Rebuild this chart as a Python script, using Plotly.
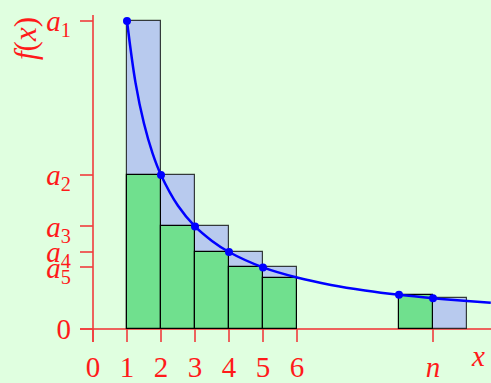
import plotly.graph_objects as go

# ---- data ----
upper_left = [1, 2, 3, 4, 5, 10]          # left edges of the blue (upper) bars
upper_height = [1.0, 0.5, 0.333, 0.25, 0.2, 0.1]
lower_left = [1, 2, 3, 4, 5, 9]           # left edges of the green (lower) bars
lower_height = [0.5, 0.333, 0.25, 0.2, 0.167, 0.111]

curve_x = [1, 1.25, 1.5, 1.75, 2, 2.5, 3, 3.5, 4, 5, 6, 7, 8, 9, 10, 11, 11.7]
curve_y = [1.0, 0.8, 0.667, 0.571, 0.5, 0.4, 0.333, 0.286, 0.25, 0.2, 0.167,
           0.143, 0.125, 0.111, 0.1, 0.091, 0.0855]

point_x = [1, 2, 3, 4, 5, 9, 10]
point_y = [1.0, 0.5, 0.333, 0.25, 0.2, 0.111, 0.1]

x_tick_vals = [0, 1, 2, 3, 4, 5, 6, 10]
x_tick_text = ["0", "1", "2", "3", "4", "5", "6", "<i>n</i>"]
y_tick_vals = [0, 0.2, 0.25, 0.333, 0.5, 1.0]
y_tick_text = ["0", "<i>a</i><sub>5</sub>", "<i>a</i><sub>4</sub>",
               "<i>a</i><sub>3</sub>", "<i>a</i><sub>2</sub>", "<i>a</i><sub>1</sub>"]

RED = "#ff1a1a"
AXIS = "rgba(240,60,60,0.8)"
FONT = "Liberation Serif"
FS = 29

fig = go.Figure()
fig.add_trace(go.Bar(
    x=[l + 0.5 for l in upper_left], y=upper_height, width=1,
    marker=dict(color="#b8caee", line=dict(color="rgba(0,0,0,0.75)", width=1.2)),
    hoverinfo="skip"))
fig.add_trace(go.Bar(
    x=[l + 0.5 for l in lower_left], y=lower_height, width=1,
    marker=dict(color="#70e08e", line=dict(color="black", width=1.2)),
    hoverinfo="skip"))
fig.add_trace(go.Scatter(
    x=curve_x, y=curve_y, mode="lines", line=dict(color="#0000ff", width=2.5, shape="spline"),
    hoverinfo="skip"))
fig.add_trace(go.Scatter(
    x=point_x, y=point_y, mode="markers", marker=dict(color="#0000ff", size=8),
    hoverinfo="skip"))

fig.update_layout(
    width=491, height=383,
    margin=dict(l=80, r=0, t=15, b=41, autoexpand=False),
    paper_bgcolor="#e0ffe0", plot_bgcolor="#e0ffe0",
    showlegend=False, barmode="overlay", bargap=0,
    font=dict(family=FONT, color=RED, size=FS),
    xaxis=dict(range=[-0.382, 11.706], tickvals=x_tick_vals, ticktext=x_tick_text,
               showgrid=False, zeroline=True, zerolinecolor=AXIS, zerolinewidth=2,
               showline=False, ticks="inside", ticklen=13, tickwidth=1.5, tickcolor=AXIS,
               tickfont=dict(family=FONT, size=FS, color=RED), fixedrange=True,
               automargin=False, ticklabelstandoff=5),
    yaxis=dict(range=[-0.0422, 1.0195], tickvals=y_tick_vals, ticktext=y_tick_text,
               showgrid=False, zeroline=True, zerolinecolor=AXIS, zerolinewidth=2,
               showline=False, ticks="inside", ticklen=13, tickwidth=1.5, tickcolor=AXIS,
               tickfont=dict(family=FONT, size=FS, color=RED), fixedrange=True,
               automargin=False, ticklabelstandoff=8),
    annotations=[
        dict(text="<i>f</i>(<i>x</i>)", xref="paper", yref="paper",
             x=-55 / 411, y=(342 - 39) / 327, textangle=-90, showarrow=False,
             font=dict(family=FONT, size=31, color=RED), xanchor="center", yanchor="middle"),
        dict(text="<i>x</i>", xref="paper", yref="paper",
             x=(478 - 80) / 411, y=-(356 - 342) / 327, showarrow=False,
             font=dict(family=FONT, size=FS, color=RED), xanchor="center", yanchor="middle"),
    ],
)

fig.write_html(
    "out.html",
    config={"displayModeBar": False},
    post_script="document.body.style.margin='0';document.body.style.padding='0';"
                "document.body.style.overflow='hidden';"
                "document.body.style.background='#e0ffe0';",
)
